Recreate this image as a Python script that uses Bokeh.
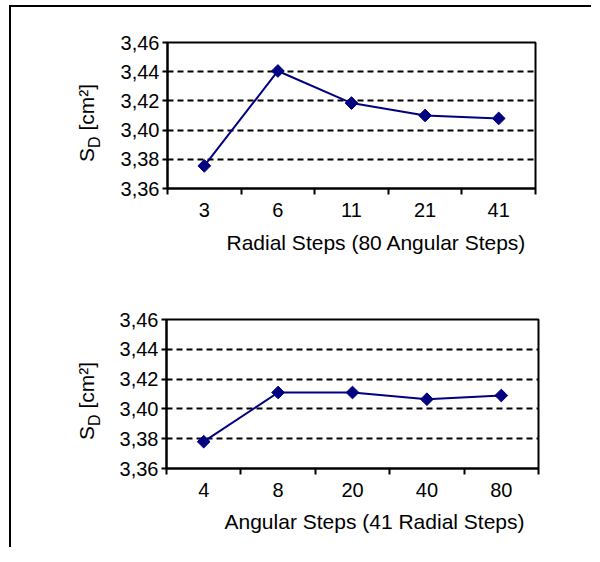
from bokeh.plotting import figure
from bokeh.models import Range1d, FixedTicker, Title, Div
from bokeh.layouts import column, row
from bokeh.embed import file_html
from bokeh.resources import INLINE
import numpy as np

# ---- data ----
radial_steps = ["3", "6", "11", "21", "41"]
sd_radial = [3.3755, 3.4405, 3.4185, 3.4100, 3.4080]
angular_steps = ["4", "8", "20", "40", "80"]
sd_angular = [3.3780, 3.4110, 3.4110, 3.4065, 3.4090]
y_ticks = [3.36, 3.38, 3.40, 3.42, 3.44, 3.46]
y_tick_labels = ["3,36", "3,38", "3,40", "3,42", "3,44", "3,46"]
grid_values = [3.38, 3.40, 3.42, 3.44]
x_titles = ["Radial Steps (80 Angular Steps)", "Angular Steps (41 Radial Steps)"]
y_title_main, y_title_sub, y_title_unit = "S", "D", "[cm²]"

FONT = "Liberation Sans"
NAVY = "#000080"
LAB_W = 92
MAIN_W = 488


def ylabel_div(height, s_bottom):
    """Rotated axis title  S_D [cm²]  as real HTML text."""
    html = (
        f'<div style="width:max-content;white-space:nowrap;line-height:21px;'
        f"font-family:'{FONT}';font-size:21px;color:black;"
        f'transform-origin:0 0;transform:translate(65px,{s_bottom}px) rotate(-90deg);">'
        f'{y_title_main}<span style="font-size:16px;position:relative;top:6px;">{y_title_sub}</span>'
        f' {y_title_unit}</div>'
    )
    return Div(text=html, width=LAB_W, height=height, margin=(0, 0, 0, 0),
               styles={"padding": "0", "overflow": "visible"})


def make_panel(cats, vals, title, height, top, bottom, left, right, t_off, t_standoff):
    n = len(cats)
    xs = [i + 0.5 for i in range(n)]
    p = figure(width=MAIN_W, height=height, output_backend="svg", toolbar_location=None,
               x_range=Range1d(0, n), y_range=Range1d(y_ticks[0], y_ticks[-1]),
               min_border_top=top, min_border_bottom=bottom,
               min_border_left=left, min_border_right=right)
    p.background_fill_color = "white"
    p.border_fill_color = "white"
    p.outline_line_color = "black"
    p.outline_line_width = 2
    p.outline_line_alpha = 1

    xa = p.xaxis[0]
    xa.ticker = FixedTicker(ticks=xs, minor_ticks=list(range(n + 1)))
    xa.major_label_overrides = {x: c for x, c in zip(xs, cats)}
    xa.major_tick_out = 0
    xa.major_tick_in = 0
    xa.minor_tick_out = 6
    xa.minor_tick_in = 0
    xa.minor_tick_line_color = "black"
    xa.minor_tick_line_width = 2
    xa.axis_line_color = "black"
    xa.axis_line_width = 2
    xa.major_label_text_font = FONT
    xa.major_label_text_font_size = "20px"
    xa.major_label_text_color = "black"
    xa.major_label_standoff = 8

    ya = p.yaxis[0]
    ya.ticker = FixedTicker(ticks=y_ticks)
    ya.major_label_overrides = {v: s for v, s in zip(y_ticks, y_tick_labels)}
    ya.major_tick_out = 5
    ya.major_tick_in = 0
    ya.major_tick_line_width = 2
    ya.major_tick_line_color = "black"
    ya.minor_tick_line_color = None
    ya.axis_line_color = "black"
    ya.axis_line_width = 2
    ya.major_label_text_font = FONT
    ya.major_label_text_font_size = "20px"
    ya.major_label_text_color = "black"
    ya.major_label_standoff = 3

    p.xgrid.visible = False
    p.ygrid.ticker = FixedTicker(ticks=grid_values)
    p.ygrid.grid_line_color = "black"
    p.ygrid.grid_line_width = 2
    p.ygrid.grid_line_dash = "6 4"

    p.line(xs, vals, line_color=NAVY, line_width=2)
    p.scatter(xs, vals, marker="square", angle=np.pi / 4, size=9,
              fill_color=NAVY, line_color=NAVY)

    # x-axis title, shifted right like in the original
    p.add_layout(Title(text=title, align="left", offset=t_off, standoff=t_standoff,
                       text_font=FONT, text_font_size="21px", text_font_style="normal",
                       text_color="black"), "below")
    return p


lab1 = ylabel_div(283, 155)
p1 = make_panel(radial_steps, sd_radial, x_titles[0], 283, 35, 102, 64, 56, 59, 19)
lab2 = ylabel_div(257, 150)
p2 = make_panel(angular_steps, sd_angular, x_titles[1], 257, 29, 79, 63, 53, 58, 17)

layout = column(row(lab1, p1, spacing=0), row(lab2, p2, spacing=0), spacing=0,
                styles={"border-left": "2px solid black", "border-top": "2px solid black",
                        "margin-left": "9px", "margin-top": "5px"})

open("out.html", "w").write(file_html(layout, INLINE))
